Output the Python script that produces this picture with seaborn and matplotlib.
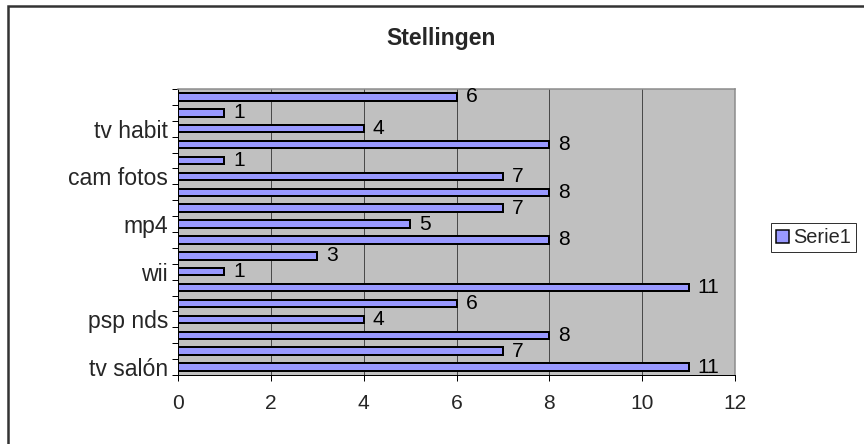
import matplotlib
matplotlib.use("Agg")
import matplotlib.pyplot as plt
from matplotlib.patches import Rectangle, Patch
import numpy as np
import pandas as pd
import seaborn as sns

# Data: 18 answers, bottom to top; only every third row carries a name
values = [11, 7, 8, 4, 6, 11, 1, 3, 8, 5, 7, 8, 7, 1, 8, 4, 1, 6]
row_names = ["tv salón", "", "", "psp nds", "", "", "wii", "", "",
             "mp4", "", "", "cam fotos", "", "", "tv habit", "", ""]
x_ticks = [0, 2, 4, 6, 8, 10, 12]
title = "Stellingen"
series_name = "Serie1"

BAR = "#9999FF"
PLOT_BG = "#C0C0C0"
FONT = "Liberation Sans"
FS = 21

sns.set_theme(style="white")
plt.rcParams["font.family"] = [FONT, "DejaVu Sans"]

W, H = 864, 444
fig = plt.figure(figsize=(W / 72, H / 72), dpi=72)
fig.patch.set_facecolor("white")

# plot area in pixel terms
left, right, top, bottom = 178, 735, 89, 375
ax = fig.add_axes([left / W, (H - bottom) / H, (right - left) / W, (bottom - top) / H])
ax.set_facecolor(PLOT_BG)

df = pd.DataFrame({"pos": np.arange(len(values)), "value": values})
sns.barplot(data=df, x="value", y="pos", orient="y", native_scale=True,
            width=0.47, color=BAR, edgecolor="black", linewidth=2,
            saturation=1, ax=ax, zorder=3)

ax.set_xlim(0, 12)
ax.set_ylim(-0.5, len(values) - 0.5)
ax.set_xlabel("")
ax.set_ylabel("")

# vertical gridlines
for xv in x_ticks[1:-1]:
    ax.axvline(xv, color="#4a4a4a", lw=1, zorder=1)

# x axis
ax.set_xticks(x_ticks)
ax.set_xticklabels([str(v) for v in x_ticks], fontsize=FS)
ax.tick_params(axis="x", direction="out", length=6, width=1, color="black",
               pad=13, bottom=True)

# y axis: labels at named rows, tick marks at row boundaries
label_pos = [i for i, n in enumerate(row_names) if n]
ax.set_yticks(label_pos)
ax.set_yticklabels([row_names[i] for i in label_pos], fontsize=23)
ax.set_yticks(np.arange(-0.5, len(values), 1.0), minor=True)
ax.tick_params(axis="y", which="major", length=0, pad=10, left=True)
ax.tick_params(axis="y", which="minor", direction="out", length=6, width=1,
               color="black", left=True)

for sp in ["left", "bottom"]:
    ax.spines[sp].set_color("black")
    ax.spines[sp].set_linewidth(1)
for sp in ["top", "right"]:
    ax.spines[sp].set_color("#8a8a8a")
    ax.spines[sp].set_linewidth(1.5)

# value labels at the end of each bar
for i, v in enumerate(values):
    ax.annotate(str(v), (v, i), xytext=(9, 0), textcoords="offset points",
                ha="left", va="center", fontsize=FS, color="black", zorder=4)

fig.text(441 / W, 1 - 38 / H, title, ha="center", va="center",
         fontsize=23, fontweight="bold")

# legend
handle = Patch(facecolor=BAR, edgecolor="black", linewidth=1.5)
leg = fig.legend([handle], [series_name], loc="center left",
                 bbox_to_anchor=(771 / W, 1 - 238 / H), fontsize=20,
                 frameon=True, fancybox=False, borderpad=0.25,
                 handlelength=0.65, handleheight=0.65, handletextpad=0.2,
                 borderaxespad=0)
leg.get_frame().set_edgecolor("black")
leg.get_frame().set_linewidth(1)

# outer chart border
fig.patches.append(Rectangle((8 / W, -0.1), 2, 1 - 6 / H + 0.1,
                             transform=fig.transFigure, fill=False,
                             edgecolor="#333333", linewidth=2.5))

fig.savefig("out.png", dpi=72)
